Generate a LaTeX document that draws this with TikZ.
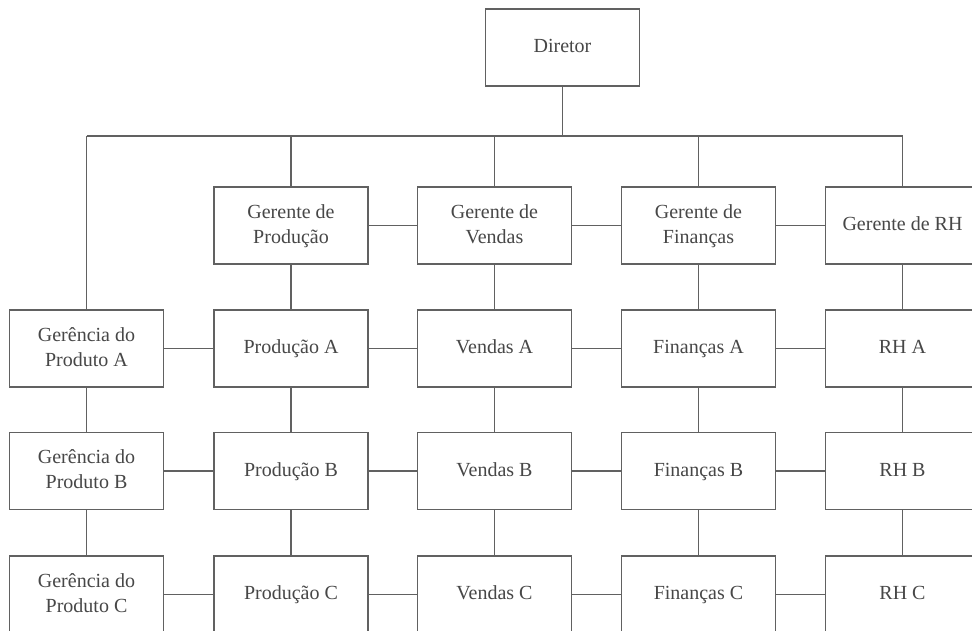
\documentclass[tikz,border=0pt]{standalone}
\usepackage{fontspec}
\setmainfont{Liberation Serif}
% one text line with a uniform height and depth
\newcommand{\boxline}[1]{\strut #1}
\begin{document}
\begin{tikzpicture}[x=1pt,y=-1pt,
    orgbox/.style={draw=black!62, line width=1.3pt, fill=white,
      minimum width=154pt, minimum height=77pt, inner sep=2pt,
      align=center, text=black!72,
      font=\fontsize{20}{25}\selectfont},
    link/.style={draw=black!62, line width=1.3pt}]
  \path[use as bounding box, clip] (0,0) rectangle (972,630);
  \fill[white] (0,0) rectangle (972,630);

  % top
  \node[orgbox] (dir) at (562.5,47.5) {\boxline{Diretor}};

  % managers
  \node[orgbox] (gp) at (291,225.5)   {\boxline{Gerente de}\\\boxline{Produção}};
  \node[orgbox] (gv) at (494.5,225.5) {\boxline{Gerente de}\\\boxline{Vendas}};
  \node[orgbox] (gf) at (698.5,225.5) {\boxline{Gerente de}\\\boxline{Finanças}};
  \node[orgbox] (gr) at (902.5,225.5) {\boxline{Gerente de RH}};

  % row A
  \node[orgbox] (ga) at (86.5,348.5)  {\boxline{Gerência do}\\\boxline{Produto A}};
  \node[orgbox] (pa) at (291,348.5)   {\boxline{Produção A}};
  \node[orgbox] (va) at (494.5,348.5) {\boxline{Vendas A}};
  \node[orgbox] (fa) at (698.5,348.5) {\boxline{Finanças A}};
  \node[orgbox] (ra) at (902.5,348.5) {\boxline{RH A}};

  % row B
  \node[orgbox] (gb) at (86.5,471)  {\boxline{Gerência do}\\\boxline{Produto B}};
  \node[orgbox] (pb) at (291,471)   {\boxline{Produção B}};
  \node[orgbox] (vb) at (494.5,471) {\boxline{Vendas B}};
  \node[orgbox] (fb) at (698.5,471) {\boxline{Finanças B}};
  \node[orgbox] (rb) at (902.5,471) {\boxline{RH B}};

  % row C
  \node[orgbox] (gc) at (86.5,594.5)  {\boxline{Gerência do}\\\boxline{Produto C}};
  \node[orgbox] (pc) at (291,594.5)   {\boxline{Produção C}};
  \node[orgbox] (vc) at (494.5,594.5) {\boxline{Vendas C}};
  \node[orgbox] (fc) at (698.5,594.5) {\boxline{Finanças C}};
  \node[orgbox] (rc) at (902.5,594.5) {\boxline{RH C}};

  % distribution bus under the director
  \coordinate (busL) at (86.5,136);
  \coordinate (busR) at (902.5,136);
  \draw[link] (busL) -- (busR);
  \draw[link] (dir.south) -- (dir.south |- busL);
  \foreach \n in {ga,gp,gv,gf,gr}
    \draw[link] (\n.north) -- (\n.north |- busL);

  % vertical links within columns
  \foreach \a/\b in {gp/pa,pa/pb,pb/pc, gv/va,va/vb,vb/vc,
                     gf/fa,fa/fb,fb/fc, gr/ra,ra/rb,rb/rc, ga/gb,gb/gc}
    \draw[link] (\a.south) -- (\b.north);

  % horizontal links within rows
  \foreach \a/\b in {gp/gv,gv/gf,gf/gr,
                     ga/pa,pa/va,va/fa,fa/ra,
                     gb/pb,pb/vb,vb/fb,fb/rb,
                     gc/pc,pc/vc,vc/fc,fc/rc}
    \draw[link] (\a.east) -- (\b.west);
\end{tikzpicture}
\end{document}
